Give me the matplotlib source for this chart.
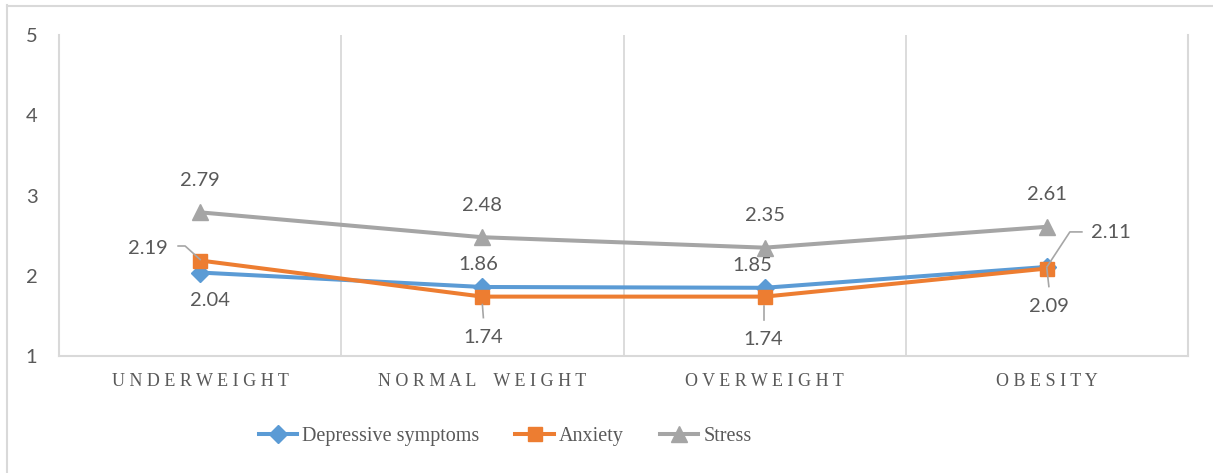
import numpy as np
import matplotlib
matplotlib.use('Agg')
import matplotlib.pyplot as plt
from matplotlib.lines import Line2D
from matplotlib.transforms import IdentityTransform

# --- data ---
categories = ['UNDERWEIGHT', 'NORMAL WEIGHT', 'OVERWEIGHT', 'OBESITY']
depressive = [2.04, 1.86, 1.85, 2.11]
anxiety = [2.19, 1.74, 1.74, 2.09]
stress = [2.79, 2.48, 2.35, 2.61]
series_names = ['Depressive symptoms', 'Anxiety', 'Stress']

BLUE = '#5b9bd5'
ORANGE = '#ed7d31'
GREY = '#a5a5a5'
TEXT = '#595959'
GRID = '#d9d9d9'
LEADER = '#a6a6a6'

plt.rcParams['font.family'] = ['Lato', 'DejaVu Sans']

W, H = 1213, 473
fig = plt.figure(figsize=(W / 100, H / 100), dpi=100)
ax = fig.add_axes([59 / W, 1 - 356 / H, (1188 - 59) / W, (356 - 35) / H])

x = np.arange(len(categories))
ax.plot(x, depressive, color=BLUE, lw=2.9, marker='D', ms=9, zorder=3, label=series_names[0])
ax.plot(x, anxiety, color=ORANGE, lw=2.9, marker='s', ms=10.5, zorder=4, label=series_names[1])
ax.plot(x, stress, color=GREY, lw=2.9, marker='^', ms=11, zorder=3, label=series_names[2])

ax.set_xlim(-0.5, len(categories) - 0.5)
ax.set_ylim(1, 5)
ax.set_yticks([1, 2, 3, 4, 5])
ax.set_xticks(x)
# letter-spaced category names like the Excel original
spaced = ['    '.join(' '.join(w) for w in c.split(' ')) for c in categories]
ax.set_xticklabels(spaced, family=['Liberation Serif', 'DejaVu Serif'], fontsize=13, color=TEXT)
ax.tick_params(axis='x', length=0, pad=12.5)
ax.tick_params(axis='y', length=0, pad=15.5, labelsize=14.5, labelcolor=TEXT)

# vertical gridlines between categories, light frame
for b in np.arange(0.5, len(categories) - 0.5):
    ax.axvline(b, color=GRID, lw=1.3, zorder=1)
for side in ['left', 'right', 'bottom']:
    ax.spines[side].set_color(GRID)
    ax.spines[side].set_linewidth(1.5)
ax.spines['top'].set_visible(False)

# data labels: (offset x, offset y) in pixels, alignment
lab_dep = [(10, -28, 'center'), (-4, 22, 'center'), (-12, 22, 'center'), (44, 34, 'left')]
lab_anx = [(-32, 12, 'right'), (1, -41, 'center'), (-1, -43, 'center'), (2, -38, 'center')]
lab_str = [(0, 32, 'center')] * 4

for vals, labs in [(depressive, lab_dep), (anxiety, lab_anx), (stress, lab_str)]:
    for xi, v, (dx, dy, ha) in zip(x, vals, labs):
        ax.annotate(f'{v:.2f}', (xi, v), xytext=(dx, dy), textcoords='offset pixels',
                    ha=ha, va='center', fontsize=14.5, color=TEXT, zorder=6)

# leader lines (pixel offsets from the point)
leaders = [
    (0, anxiety[0], [(-22, 14.5), (-15, 14.5), (0, 1)]),
    (1, anxiety[1], [(0, -8), (1, -21)]),
    (2, anxiety[2], [(-1, -9), (-1, -23)]),
    (3, anxiety[3], [(0, 0), (2, -18)]),
    (3, depressive[3], [(0, 0), (23, 35), (35, 35)]),
]
for xi, v, pts in leaders:
    px, py = ax.transData.transform((xi, v))
    fig.add_artist(Line2D([px + p[0] for p in pts], [py + p[1] for p in pts],
                          transform=IdentityTransform(), color=LEADER, lw=1.2, zorder=7))

leg = fig.legend(loc='center', bbox_to_anchor=(505 / W, 1 - 436 / H), ncol=3, frameon=False,
                 prop={'family': ['Liberation Serif', 'DejaVu Serif'], 'size': 14.5},
                 handlelength=1.9, handletextpad=0.25, columnspacing=1.8, labelcolor=TEXT)

# outer chart border (only left and top visible in the reference)
fig.add_artist(Line2D([7 / W, 7 / W], [0, 1 - 5 / H], transform=fig.transFigure, color=GRID, lw=1.5))
fig.add_artist(Line2D([7 / W, 1], [1 - 6 / H, 1 - 6 / H], transform=fig.transFigure, color=GRID, lw=1.5))

fig.savefig('out.png', dpi=100)
